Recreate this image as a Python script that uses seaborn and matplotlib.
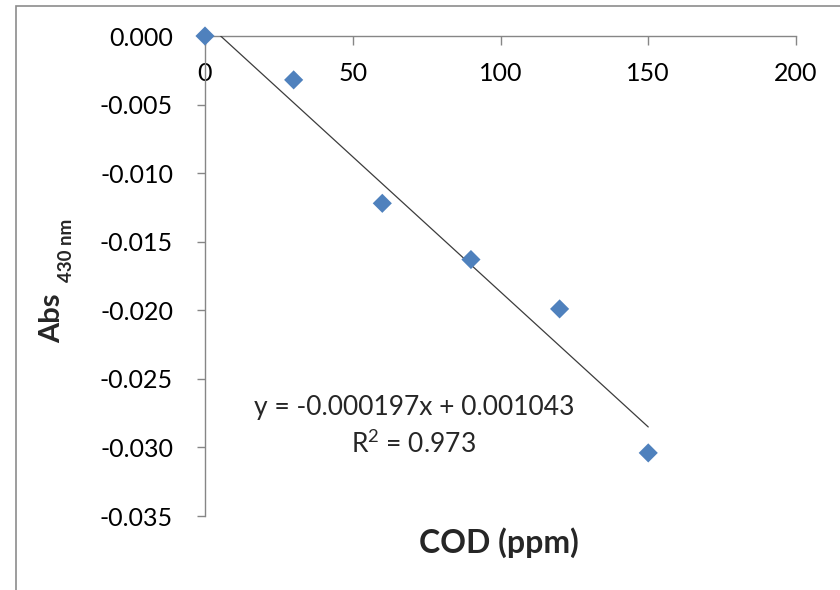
import numpy as np
import pandas as pd
import matplotlib
matplotlib.use("Agg")
import matplotlib.pyplot as plt
from matplotlib.patches import Rectangle
import seaborn as sns

# -------------------------
# data
# -------------------------
cod_ppm = [0, 30, 60, 90, 120, 150]
absorbance = [0.000, -0.0032, -0.0122, -0.0163, -0.0199, -0.0304]
fit_slope = -0.000197
fit_intercept = 0.001043
r_squared = 0.973
x_ticks = [0, 50, 100, 150, 200]
y_ticks = [0.000, -0.005, -0.010, -0.015, -0.020, -0.025, -0.030, -0.035]

df = pd.DataFrame({"cod": cod_ppm, "abs": absorbance})

sns.set_theme(style="white")
plt.rcParams["font.family"] = ["Lato", "DejaVu Sans"]
plt.rcParams["mathtext.fontset"] = "custom"
plt.rcParams["mathtext.rm"] = "Lato"
plt.rcParams["mathtext.it"] = "Lato"
plt.rcParams["mathtext.default"] = "regular"

W, H = 840, 590
fig = plt.figure(figsize=(W / 100, H / 100), dpi=100)

def px(x, y):
    return x / W, 1 - y / H

# axes box in pixels: x 205..796, y 36..516
ax = fig.add_axes([205 / W, 1 - 516 / H, (796 - 205) / W, (516 - 36) / H])
ax.set_facecolor("white")

grey = "#868686"

# trend line (clipped at y = 0 like the Excel chart)
x_fit = np.array([min(cod_ppm), max(cod_ppm)])
y_fit = fit_slope * x_fit + fit_intercept
sns.lineplot(x=x_fit, y=y_fit, ax=ax, color="#3c3c3c", linewidth=0.9, zorder=3)

sns.scatterplot(data=df, x="cod", y="abs", ax=ax, marker="D", s=95,
                color="#4F81BD", edgecolor="none", zorder=5, clip_on=False)

ax.set_xlim(0, 200)
ax.set_ylim(-0.035, 0)
ax.set_xticks(x_ticks)
ax.set_xticklabels([str(v) for v in x_ticks])
ax.set_yticks(y_ticks)
ax.set_yticklabels([f"{v:.3f}" for v in y_ticks])

ax.spines["bottom"].set_position(("data", 0))
ax.spines["top"].set_visible(False)
ax.spines["right"].set_visible(False)
for s in ["bottom", "left"]:
    ax.spines[s].set_color(grey)
    ax.spines[s].set_linewidth(1.0)

ax.tick_params(axis="x", direction="out", length=6.5, width=1.0, color=grey,
               pad=12, labelsize=18, labelcolor="black", bottom=True)
ax.tick_params(axis="y", direction="out", length=6, width=1.0, color=grey,
               pad=17, labelsize=18, labelcolor="black", left=True)

ax.set_xlabel("")
ax.set_ylabel("")

# axis titles
fig.text(*px(499, 543), "COD (ppm)", ha="center", va="center",
         fontsize=23, fontweight="bold")
fig.text(*px(52, 318), "Abs", ha="center", va="center", rotation=90,
         fontsize=21, fontweight="bold")
fig.text(*px(67, 250), "430 nm", ha="center", va="center", rotation=90,
         fontsize=13.5, fontweight="bold")

# equation of the trend line
ax.text((414 - 205) / 591, 1 - (408 - 36) / 480,
        f"y = {fit_slope:.6f}x + {fit_intercept:.6f}",
        transform=ax.transAxes, ha="center", va="center", fontsize=19)
ax.text((413 - 205) / 591, 1 - (444 - 36) / 480, f"R$^{{2}}$ = {r_squared}",
        transform=ax.transAxes, ha="center", va="center", fontsize=19)

# chart frame (cut off at the right and bottom in the reference)
frame = Rectangle((16 / W, -0.5), 2.0, 0.5 + (1 - 6 / H),
                  transform=fig.transFigure, fill=False,
                  edgecolor="#8c8c8c", linewidth=1.2)
fig.patches.append(frame)

fig.savefig("out.png", dpi=100)
